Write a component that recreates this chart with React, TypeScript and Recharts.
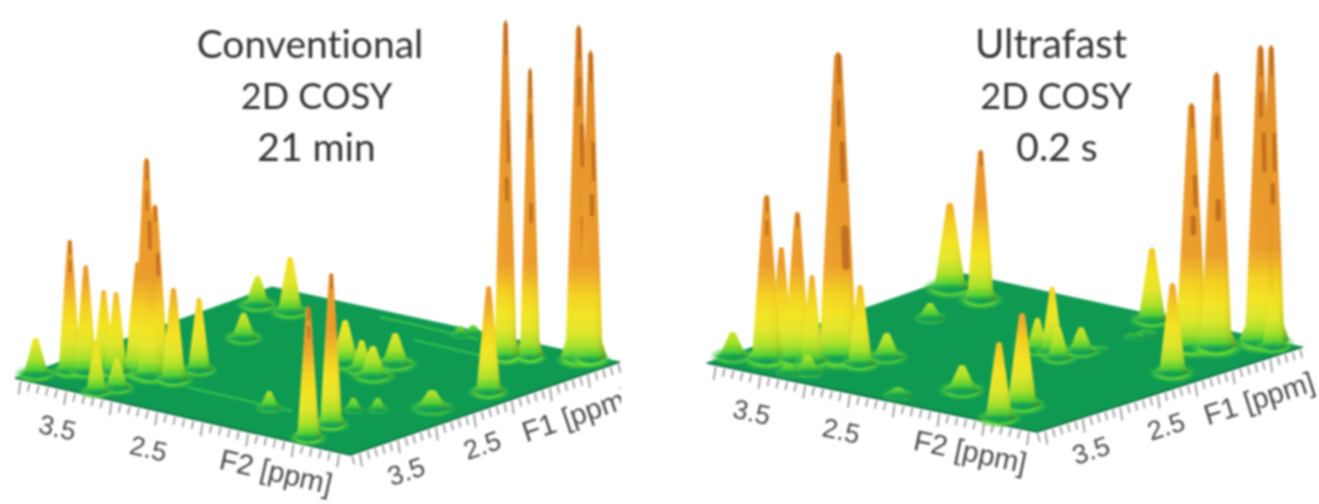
import { ComposedChart, Area, Line, Scatter, XAxis, YAxis } from "recharts";

const WIDTH = 1319;
const HEIGHT = 504;

// peak tables: [F2 ppm, F1 ppm, intensity, linewidth ppm]
type PeakRow = [number, number, number, number];

const conventionalPeaks: PeakRow[] = [
  [4.0, 3.93, 36, 0.055], [3.82, 3.7, 132, 0.05], [3.71, 3.62, 107, 0.05], [3.63, 3.48, 80, 0.05],
  [3.51, 3.46, 80, 0.05], [3.26, 4.02, 52, 0.045], [3.2, 3.82, 30, 0.05], [3.37, 3.34, 110, 0.06],
  [3.31, 3.3, 214, 0.06], [3.26, 3.25, 167, 0.06], [3.21, 3.37, 90, 0.06], [2.98, 3.34, 92, 0.055],
  [3.0, 2.98, 72, 0.05], [3.86, 1.18, 29, 0.055], [3.51, 1.17, 55, 0.055], [3.32, 2.01, 25, 0.055],
  [1.81, 3.48, 17, 0.045], [0.98, 3.96, 132, 0.05], [1.08, 3.54, 152, 0.05], [2.17, 2.05, 43, 0.06],
  [1.93, 2.12, 30, 0.05], [1.74, 2.2, 30, 0.06], [1.82, 1.81, 31, 0.06], [1.22, 3.08, 12, 0.04],
  [1.06, 2.95, 12, 0.04], [0.74, 2.62, 18, 0.07], [0.67, 1.96, 106, 0.055], [1.21, 1.09, 338, 0.05],
  [1.05, 0.96, 290, 0.045], [0.69, 0.75, 335, 0.06], [0.61, 0.69, 310, 0.055], [1.95, 0.8, 9, 0.04],
  [1.9, 0.69, 8, 0.04],
];

const ultrafastPeaks: PeakRow[] = [
  [4.07, 3.8, 24, 0.06], [3.76, 3.72, 165, 0.065], [3.66, 3.64, 113, 0.055], [3.55, 3.56, 148, 0.06],
  [3.41, 3.53, 87, 0.05], [3.32, 3.29, 306, 0.085], [3.04, 3.33, 79, 0.055], [3.01, 3.01, 24, 0.06],
  [3.34, 3.93, 10, 0.05], [3.23, 3.8, 17, 0.055], [3.54, 1.8, 15, 0.055], [4.04, 0.94, 85, 0.07],
  [3.58, 1.08, 150, 0.06], [1.8, 3.45, 25, 0.065], [2.13, 3.91, 8, 0.06], [0.96, 3.96, 76, 0.06],
  [1.08, 3.51, 92, 0.065], [2.14, 2.04, 32, 0.05], [2.0, 2.01, 65, 0.05], [1.83, 2.13, 31, 0.05],
  [1.82, 1.84, 24, 0.055], [1.73, 1.72, 4, 0.05], [2.0, 0.68, 72, 0.06], [0.74, 1.91, 90, 0.06],
  [1.14, 1.18, 245, 0.07], [0.97, 1.05, 276, 0.07], [0.78, 0.69, 298, 0.07], [0.71, 0.63, 298, 0.06],
  [0.61, 0.72, 58, 0.05], [1.75, 1.2, 3, 0.05], [1.74, 1.06, 3, 0.05],
];

// faint ridges on the floor: [F2 from, F1 from, F2 to, F1 to]
const conventionalRidges = [
  [2.76, 3.43, 1.6, 3.43],
  [2.82, 0.81, 1.74, 0.81],
  [2.16, 1.16, 1.42, 1.16],
];
const ultrafastRidges: number[][] = [];

const f2Ticks = [4.0, 3.9, 3.8, 3.7, 3.6, 3.5, 3.4, 3.3, 3.2, 3.1, 3.0, 2.9, 2.8, 2.7, 2.6, 2.5, 2.4, 2.3, 2.2, 2.1, 2.0, 1.9, 1.8, 1.7, 1.6, 1.5, 1.4, 1.3, 1.2, 1.1, 1.0, 0.9, 0.8, 0.7, 0.6, 0.5];
const f1Ticks = [4.1, 4.0, 3.9, 3.8, 3.7, 3.6, 3.5, 3.4, 3.3, 3.2, 3.1, 3.0, 2.9, 2.8, 2.7, 2.6, 2.5, 2.4, 2.3, 2.2, 2.1, 2.0, 1.9, 1.8, 1.7, 1.6, 1.5, 1.4, 1.3, 1.2, 1.1, 1.0, 0.9, 0.8, 0.7, 0.6];
const labelledPpm = [3.5, 2.5];

const titleLines = [
  { text: "Conventional", cx: 310, top: 17, size: 39 },
  { text: "2D COSY", cx: 316.5, top: 69, size: 36 },
  { text: "21 min", cx: 316.5, top: 120, size: 39 },
  { text: "Ultrafast", cx: 1051, top: 17, size: 40 },
  { text: "2D COSY", cx: 1056, top: 69, size: 36 },
  { text: "0.2 s", cx: 1057, top: 120, size: 39 },
];

// oblique view of the F2/F1 plane, one per panel
const conventionalView = {
  id: "conv", ox: 350, oy: 455, f2Zero: 0.38, f1Zero: 4.13,
  f2x: 91, f2y: 20.9, f1x: 76, f1y: 26.2,
  corners: [[4.06, 4.13], [4.11, 0.69], [0.38, 4.13], [0.38, 0.58]],
  f2Angle: 13, f1Angle: -19, f2Name: 1.1, f1Name: 1.25, clipRight: 621,
};
const ultrafastView = {
  id: "fast", ox: 1037, oy: 432, f2Zero: 0.41, f1Zero: 4.11,
  f2x: 89.5, f2y: 18.7, f1x: 75, f1y: 24,
  corners: [[4.1, 4.11], [4.24, 0.51], [0.41, 4.11], [0.41, 0.57]],
  f2Angle: 12, f1Angle: -18, f2Name: 1.06, f1Name: 1.26, clipRight: 1319,
};
type View = typeof conventionalView;

const project = (v: View, f2: number, f1: number) => {
  const u = f2 - v.f2Zero;
  const w = v.f1Zero - f1;
  return { x: v.ox - v.f2x * u + v.f1x * w, y: v.oy - v.f2y * u - v.f1y * w };
};

const lerp = (a: { x: number; y: number }, b: { x: number; y: number }, x: number) =>
  a.y + ((b.y - a.y) * (x - a.x)) / (b.x - a.x);

const floorRows = (v: View) => {
  const [l, b, f, r] = v.corners.map(([a, c]) => project(v, a, c));
  return [
    { x: l.x, range: [l.y, l.y] },
    { x: b.x, range: [b.y, lerp(l, f, b.x)] },
    { x: f.x, range: [lerp(b, r, f.x), f.y] },
    { x: r.x, range: [r.y, r.y] },
  ];
};

const frontRows = (v: View) => {
  const [l, , f, r] = v.corners.map(([a, c]) => project(v, a, c));
  return [
    { x: l.x, y: l.y },
    { x: f.x, y: f.y },
    { x: r.x, y: r.y },
  ];
};

const peakRows = (v: View, peaks: PeakRow[]) =>
  peaks
    .map(([f2, f1, h, lw], i) => ({ ...project(v, f2, f1), h, s: lw * 95, i, id: `${v.id}-${f2}-${f1}` }))
    .sort((a, b) => a.y - b.y);

const tickRows = (v: View) => [
  ...f2Ticks.map((p) => ({ ...project(v, p, v.f1Zero), major: Math.round(p * 10) % 5 === 0, dx: -2 })),
  ...f1Ticks.map((p) => ({ ...project(v, v.f2Zero, p), major: Math.round(p * 10) % 5 === 0, dx: 2 })),
];

const labelRows = (v: View) => [
  ...labelledPpm.map((p) => {
    const q = project(v, p, v.f1Zero);
    return { x: q.x - 9, y: q.y + 40, text: p.toFixed(1), angle: v.f2Angle, clip: v.clipRight, size: 27 };
  }),
  ...labelledPpm.map((p) => {
    const q = project(v, v.f2Zero, p);
    return { x: q.x + 9, y: q.y + 35, text: p.toFixed(1), angle: v.f1Angle, clip: v.clipRight, size: 27 };
  }),
  (() => {
    const q = project(v, v.f2Name, v.f1Zero);
    return { x: q.x - 9, y: q.y + 34, text: "F2 [ppm]", angle: v.f2Angle, clip: v.clipRight, size: 29 };
  })(),
  (() => {
    const q = project(v, v.f2Zero, v.f1Name);
    return { x: q.x + 9, y: q.y + 37, text: "F1 [ppm]", angle: v.f1Angle, clip: v.clipRight, size: 29 };
  })(),
];

// colour by height above the floor, like the surface's colour map
const COLOR_STOPS: [number, string][] = [
  [0, "#10a050"], [5, "#55d030"], [14, "#a8e028"], [28, "#dfe62a"], [45, "#f3e422"],
  [65, "#f4d020"], [80, "#f0b428"], [95, "#ec9c2a"], [200, "#e8962a"], [340, "#d8822a"],
];
const MAX_Z = 340;

// rust-coloured patches high up on the tall peaks: [from, to, sideways share]
const RUST_PATCHES = [
  [0.3, 0.42, 0.55], [0.47, 0.53, 0.2], [0.58, 0.7, 0.5], [0.76, 0.84, 0.1], [0.9, 0.99, 0.2],
];

const Peak = (props: any) => {
  const { cx, cy, payload } = props;
  const { h, s, id, i } = payload;
  const halfAt = (t: number) => s * (t >= 1 ? 0.12 : 0.45 + 1.9 * (1 - t) + (t < 0.06 ? 1.0 * (1 - t / 0.06) : 0));
  const up: string[] = [];
  const down: string[] = [];
  [0.01, 0.03, 0.06, 0.12, 0.25, 0.45, 0.65, 0.85, 0.95, 0.985, 1].forEach((t) => {
    const half = halfAt(t);
    const y = cy - h * t;
    up.push(`${(cx - half).toFixed(1)} ${y.toFixed(1)}`);
    down.unshift(`${(cx + half).toFixed(1)} ${y.toFixed(1)}`);
  });
  const foot = halfAt(0.01);
  const grow = Math.min(1, 0.55 + h / 60);
  const body = `M${up.join("L")}L${down.join("L")}Q${cx} ${cy + foot * 0.55} ${cx - foot} ${cy - h * 0.01}Z`;
  const patches = RUST_PATCHES.filter((_, n) => (n + i) % 3 !== 0 || n === 4);
  return (
    <g>
      <defs>
        <linearGradient id={id} gradientUnits="userSpaceOnUse" x1={cx} x2={cx} y1={cy} y2={cy - MAX_Z}>
          {COLOR_STOPS.map(([z, c]) => (
            <stop key={z} offset={z / MAX_Z} stopColor={c} />
          ))}
        </linearGradient>
      </defs>
      <ellipse cx={cx} cy={cy} rx={foot * 1.35 * grow} ry={foot * 0.55 * grow} fill="url(#footGlow)" />
      <path d={body} fill={`url(#${id})`} />
      <path d={body} fill="url(#peakShade)" />
      {h > 120 &&
        patches
          .filter(([from]) => h * from > 90)
          .map(([from, to, side]) => (
            <line
              key={from}
              x1={cx + halfAt(from) * side}
              x2={cx + halfAt(to) * side}
              y1={cy - h * from}
              y2={cy - h * to}
              stroke="#a9541a"
              strokeOpacity={0.6}
              strokeWidth={Math.max(2.5, halfAt(to) * 0.6)}
              strokeLinecap="round"
            />
          ))}
    </g>
  );
};

const TickMark = (props: any) => {
  const { cx, cy, payload } = props;
  const len = payload.major ? 15 : 10;
  return <line x1={cx} y1={cy + 2} x2={cx + payload.dx} y2={cy + len} stroke="#8f8f8f" strokeWidth={1.6} />;
};

const AxisText = (props: any) => {
  const { cx, cy, payload } = props;
  const clipId = `clip-${Math.round(cx)}-${Math.round(cy)}`;
  return (
    <g clipPath={payload.clip < WIDTH ? `url(#${clipId})` : undefined}>
      <clipPath id={clipId}>
        <rect x={0} y={0} width={payload.clip} height={HEIGHT} />
      </clipPath>
      <text
        x={cx}
        y={cy}
        textAnchor="middle"
        dominantBaseline="middle"
        fontFamily="Liberation Sans"
        fontSize={payload.size}
        fill="#4a4a4a"
        transform={`rotate(${payload.angle} ${cx} ${cy})`}
      >
        {payload.text}
      </text>
    </g>
  );
};

const panel = (v: View, peaks: PeakRow[], ridges: number[][]) => [
  <Area
    key={`${v.id}-floor`}
    data={floorRows(v)}
    dataKey="range"
    type="linear"
    fill="#0f9a52"
    fillOpacity={1}
    stroke="#0f9a52"
    dot={false}
    activeDot={false}
    isAnimationActive={false}
  />,
  ...ridges.map((r, i) => (
    <Line
      key={`${v.id}-ridge-${i}`}
      data={[project(v, r[0], r[1]), project(v, r[2], r[3])]}
      dataKey="y"
      stroke="#35c04a"
      strokeWidth={2}
      dot={false}
      activeDot={false}
      isAnimationActive={false}
    />
  )),
  <Line
    key={`${v.id}-edge`}
    data={frontRows(v)}
    dataKey="y"
    stroke="#0a6a3c"
    strokeWidth={1.6}
    dot={false}
    activeDot={false}
    isAnimationActive={false}
  />,
  <Scatter key={`${v.id}-ticks`} data={tickRows(v)} dataKey="y" shape={TickMark} isAnimationActive={false} />,
  <Scatter key={`${v.id}-labels`} data={labelRows(v)} dataKey="y" shape={AxisText} isAnimationActive={false} />,
  <Scatter key={`${v.id}-peaks`} data={peakRows(v, peaks)} dataKey="y" shape={Peak} isAnimationActive={false} />,
];

export default function App() {
  return (
    <div style={{ position: "absolute", left: 0, top: 0, width: WIDTH, height: HEIGHT, filter: "blur(0.8px)" }}>
      <ComposedChart width={WIDTH} height={HEIGHT} margin={{ top: 0, right: 0, bottom: 0, left: 0 }}>
        <defs>
          <linearGradient id="peakShade" x1="0" x2="1" y1="0" y2="0">
            <stop offset="0" stopColor="#fff2a0" stopOpacity={0.1} />
            <stop offset="0.55" stopColor="#fff2a0" stopOpacity={0} />
            <stop offset="0.8" stopColor="#8a4000" stopOpacity={0.1} />
            <stop offset="1" stopColor="#8a4000" stopOpacity={0.28} />
          </linearGradient>
          <radialGradient id="footGlow">
            <stop offset="0" stopColor="#9ce62c" stopOpacity={1} />
            <stop offset="0.6" stopColor="#62d832" stopOpacity={0.9} />
            <stop offset="1" stopColor="#2cb848" stopOpacity={0} />
          </radialGradient>
        </defs>
        <XAxis type="number" dataKey="x" domain={[0, WIDTH]} hide />
        <YAxis type="number" domain={[0, HEIGHT]} reversed hide width={0} />
        {panel(conventionalView, conventionalPeaks, conventionalRidges)}
        {panel(ultrafastView, ultrafastPeaks, ultrafastRidges)}
      </ComposedChart>
      {titleLines.map((t) => (
        <div
          key={`${t.text}-${t.cx}`}
          style={{
            position: "absolute",
            left: t.cx - 200,
            top: t.top,
            width: 400,
            textAlign: "center",
            fontFamily: "Lato",
            fontSize: t.size,
            fontVariantLigatures: "none",
            lineHeight: "52px",
            color: "#333",
          }}
        >
          {t.text}
        </div>
      ))}
    </div>
  );
}
